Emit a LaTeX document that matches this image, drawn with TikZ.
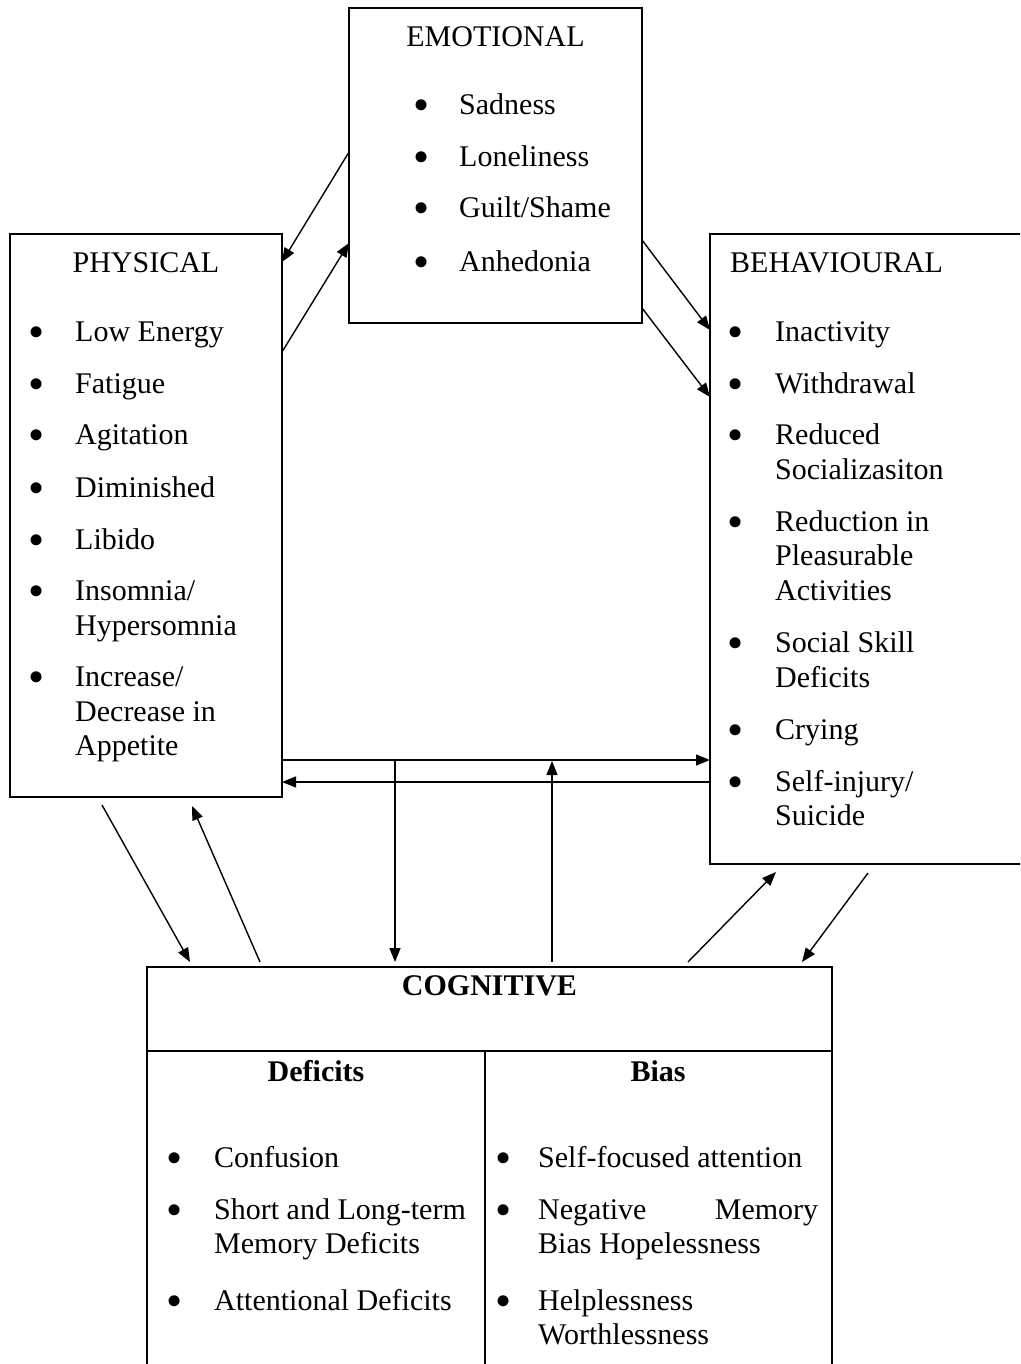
\documentclass[tikz,border=0pt]{standalone}
\usepackage{fontspec}
\setmainfont{Liberation Serif}
\usetikzlibrary{arrows.meta}
\begin{document}
\begin{tikzpicture}[x=1pt,y=-1pt,
  box/.style={draw, line width=1.6pt, inner sep=0pt},
  txt/.style={anchor=base west, inner sep=0pt, font=\fontsize{30}{35}\selectfont},
  hd/.style={anchor=base, inner sep=0pt, font=\fontsize{30}{35}\selectfont},
  hdb/.style={anchor=base, inner sep=0pt, font=\fontsize{30}{35}\selectfont\bfseries},
  bul/.style={anchor=base, inner sep=0pt, yshift=-6pt, font=\fontsize{46}{46}\selectfont},
  arr/.style={-{Triangle[length=14pt,width=11pt]}, line width=1.4pt}]
\useasboundingbox (0,0) rectangle (1020,1364);
\clip (0,0) rectangle (1020,1364);
\newcommand\bitem[5]{\node[bul] (#1b) at (#2,#4) {•}; \node[txt] (#1) at (#3,#4) {#5};}
\newcommand\contline[4]{\node[txt] (#1) at (#2,#3) {#4};}
% boxes
\node[box, minimum width=293pt, minimum height=315pt] (emo) at (495.5,165.5) {};
\node[box, minimum width=272pt, minimum height=563pt] (phy) at (146,515.5) {};
\node[box, minimum width=330pt, minimum height=630pt] (beh) at (875,549) {};
\node[box, minimum width=685pt, minimum height=433pt] (cog) at (489.5,1183.5) {};
\coordinate (dl) at (147,1051); \coordinate (dr) at (832,1051);
\coordinate (dt) at (485,1051); \coordinate (db) at (485,1400);
\draw[line width=1.2pt] (dl) -- (dr);
\draw[line width=1.2pt] (dt) -- (db);
% emotional
\node[hd] (emoh) at (495.5,47) {EMOTIONAL};
\bitem{e1}{422}{459}{115}{Sadness}
\bitem{e2}{422}{459}{167}{Loneliness}
\bitem{e3}{422}{459}{218}{Guilt/Shame}
\bitem{e4}{422}{459}{271}{Anhedonia}
% physical
\node[hd] (phyh) at (146,272) {PHYSICAL};
\bitem{p1}{37}{75}{341}{Low Energy}
\bitem{p2}{37}{75}{393}{Fatigue}
\bitem{p3}{37}{75}{444}{Agitation}
\bitem{p4}{37}{75}{497}{Diminished}
\bitem{p5}{37}{75}{549}{Libido}
\bitem{p6}{37}{75}{600}{Insomnia/}
\contline{p6b2}{75}{635}{Hypersomnia}
\bitem{p7}{37}{75}{686}{Increase/}
\contline{p7b2}{75}{721}{Decrease in}
\contline{p7b3}{75}{755}{Appetite}
% behavioural
\node[txt] (behh) at (730,272) {BEHAVIOURAL};
\bitem{b1}{736}{775}{341}{Inactivity}
\bitem{b2}{736}{775}{393}{Withdrawal}
\bitem{b3}{736}{775}{444}{Reduced}
\contline{b3l2}{775}{479}{Socializasiton}
\bitem{b4}{736}{775}{531}{Reduction in}
\contline{b4l2}{775}{565}{Pleasurable}
\contline{b4l3}{775}{600}{Activities}
\bitem{b5}{736}{775}{652}{Social Skill}
\contline{b5l2}{775}{687}{Deficits}
\bitem{b6}{736}{775}{739}{Crying}
\bitem{b7}{736}{775}{791}{Self-injury/}
\contline{b7l2}{775}{825}{Suicide}
% cognitive
\node[hdb] (cogh) at (489.5,995) {COGNITIVE};
\node[hdb] (defh) at (316,1081) {Deficits};
\node[hdb] (biash) at (658,1081) {Bias};
\bitem{c1}{175}{214}{1167}{Confusion}
\bitem{c2}{175}{214}{1219}{Short and Long-term}
\contline{c2l2}{214}{1253}{Memory Deficits}
\bitem{c3}{175}{214}{1310}{Attentional Deficits}
\bitem{d1}{504}{538}{1167}{Self-focused attention}
\bitem{d2}{504}{538}{1219}{\hbox to 280pt{Negative\hfill Memory}}
\contline{d2l2}{538}{1253}{Bias Hopelessness}
\bitem{d3}{504}{538}{1310}{Helplessness}
\contline{d3l2}{538}{1344}{Worthlessness}
% arrow end points
\coordinate (a1s) at (349,152); \coordinate (a1e) at (282,262);
\coordinate (a2s) at (282,352); \coordinate (a2e) at (349,243);
\coordinate (a3s) at (642,240); \coordinate (a3e) at (710,330);
\coordinate (a4s) at (642,308); \coordinate (a4e) at (710,397);
\coordinate (h1s) at (282,760); \coordinate (h1e) at (710,760);
\coordinate (h2s) at (710,782); \coordinate (h2e) at (282,782);
\coordinate (v1s) at (395,760); \coordinate (v1e) at (395,962);
\coordinate (v2s) at (552,962); \coordinate (v2e) at (552,761);
\coordinate (l1s) at (102,805); \coordinate (l1e) at (190,962);
\coordinate (l2s) at (260,962); \coordinate (l2e) at (192,806);
\coordinate (r1s) at (688,962); \coordinate (r1e) at (776,872);
\coordinate (r2s) at (868,873); \coordinate (r2e) at (802,962);
\draw[arr] (a1s) -- (a1e);
\draw[arr] (a2s) -- (a2e);
\draw[arr] (a3s) -- (a3e);
\draw[arr] (a4s) -- (a4e);
\draw[arr] (h1s) -- (h1e);
\draw[arr] (h2s) -- (h2e);
\draw[arr] (v1s) -- (v1e);
\draw[arr] (v2s) -- (v2e);
\draw[arr] (l1s) -- (l1e);
\draw[arr] (l2s) -- (l2e);
\draw[arr] (r1s) -- (r1e);
\draw[arr] (r2s) -- (r2e);
\end{tikzpicture}
\end{document}
